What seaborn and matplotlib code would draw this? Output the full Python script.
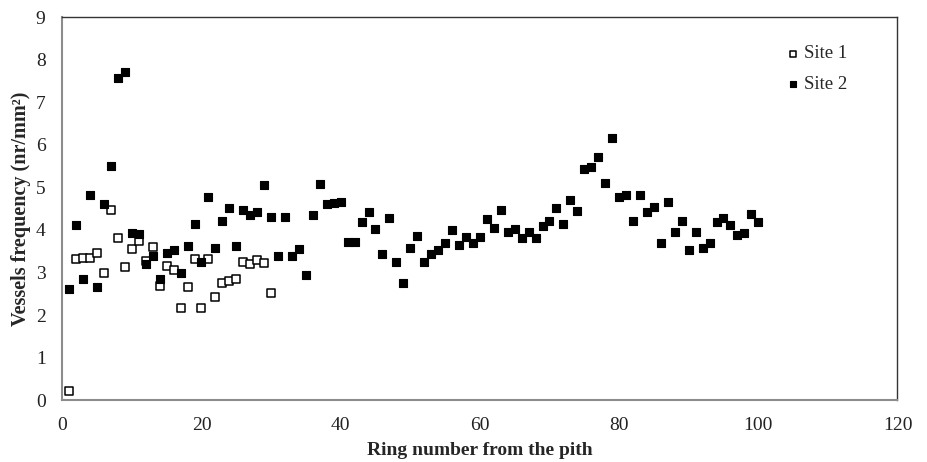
import numpy as np
import pandas as pd
import matplotlib
matplotlib.use("Agg")
import matplotlib.pyplot as plt
import seaborn as sns

# ring numbers and vessel frequency
site1_ring = list(range(1, 31))
site1_freq = [0.22, 3.31, 3.35, 3.33, 3.45, 2.98, 4.48, 3.81, 3.14, 3.56,
              3.73, 3.28, 3.59, 2.69, 3.15, 3.05, 2.16, 2.65, 3.32, 2.17,
              3.31, 2.42, 2.75, 2.80, 2.84, 3.24, 3.19, 3.29, 3.22, 2.51]

site2_ring = list(range(1, 101))
site2_freq = [2.61, 4.12, 2.86, 4.81, 2.67, 4.61, 5.49, 7.57, 7.72, 3.94,
              3.90, 3.20, 3.39, 2.85, 3.45, 3.53, 3.00, 3.63, 4.14, 3.25,
              4.77, 3.58, 4.20, 4.52, 3.63, 4.46, 4.34, 4.41, 5.06, 4.30,
              3.38, 4.30, 3.38, 3.56, 2.95, 4.34, 5.08, 4.61, 4.64, 4.66,
              3.71, 3.71, 4.18, 4.43, 4.02, 3.44, 4.28, 3.24, 2.75, 3.58,
              3.86, 3.24, 3.43, 3.52, 3.70, 4.00, 3.64, 3.83, 3.69, 3.83,
              4.25, 4.05, 4.48, 3.96, 4.03, 3.82, 3.96, 3.82, 4.10, 4.20,
              4.52, 4.15, 4.70, 4.45, 5.43, 5.48, 5.72, 5.10, 6.17, 4.78,
              4.82, 4.20, 4.81, 4.43, 4.53, 3.69, 4.66, 3.96, 4.22, 3.54,
              3.95, 3.58, 3.70, 4.18, 4.29, 4.12, 3.88, 3.92, 4.37, 4.19]

x_ticks = [0, 20, 40, 60, 80, 100, 120]
y_ticks = list(range(0, 10))

sns.set_style("white")
plt.rcParams['font.family'] = ['Liberation Serif', 'DejaVu Serif']

df1 = pd.DataFrame({"ring": site1_ring, "freq": site1_freq})
df2 = pd.DataFrame({"ring": site2_ring, "freq": site2_freq})

fig = plt.figure(figsize=(9.28, 4.62), dpi=100)
ax = fig.add_axes([0.0671, 0.1335, 0.9, 0.8297])

sns.scatterplot(data=df1, x="ring", y="freq", ax=ax, marker="s", s=34,
                facecolor="white", edgecolor="black", linewidth=1.1, label="Site 1")
sns.scatterplot(data=df2, x="ring", y="freq", ax=ax, marker="s", s=34,
                color="black", edgecolor="black", linewidth=0.8, label="Site 2")

ax.set_xlim(0, 120)
ax.set_ylim(0, 9)
ax.set_xticks(x_ticks)
ax.set_yticks(y_ticks)

gray = "#8c8c8c"
for side in ["left", "bottom"]:
    ax.spines[side].set_color(gray)
    ax.spines[side].set_linewidth(1.5)
for side in ["top", "right"]:
    ax.spines[side].set_color("#333333")
    ax.spines[side].set_linewidth(1.0)

ax.tick_params(axis="both", direction="out", length=4, width=1.2, color=gray,
               labelsize=14, pad=8, labelcolor="#222222")

ax.set_xlabel("Ring number from the pith", fontsize=14, fontweight="bold")
ax.set_ylabel("Vessels frequency (nr/mm²)", fontsize=14.5, fontweight="bold")
ax.xaxis.set_label_coords(0.5, -0.108)
ax.yaxis.set_label_coords(-0.037, 0.5)

leg = ax.legend(loc="upper left", bbox_to_anchor=(778 / 928, 1 - 36 / 462),
                bbox_transform=fig.transFigure, frameon=False, fontsize=13.5,
                handlelength=0.6, handletextpad=0.3, labelspacing=0.7,
                borderpad=0, markerscale=0.85)

fig.savefig("out.png", dpi=100)
